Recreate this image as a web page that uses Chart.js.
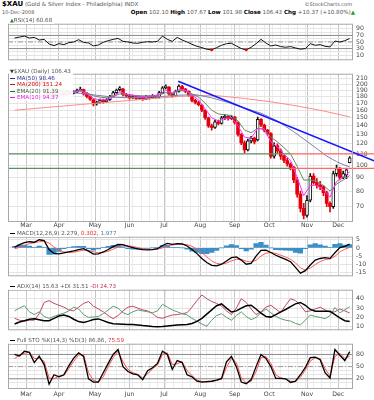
<!DOCTYPE html>
<html>
<head>
<meta charset="utf-8">
<title>$XAU daily</title>
<script src="https://cdn.jsdelivr.net/npm/chart.js@4.4.1/dist/chart.umd.min.js"></script>
<style>
  body { margin: 0; background: #fff; }
  #page { position: relative; width: 374px; height: 400px; overflow: hidden; background: #fff;
          font-family: "DejaVu Sans", Verdana, sans-serif; color: #555; }
  #page canvas { position: absolute; left: 0; }
  .txt { position: absolute; white-space: nowrap; font-size: 5.6px; line-height: 7px; }
  .txt b { color: #000; }
  .key { position: absolute; left: 9px; white-space: nowrap; font-size: 5.6px; line-height: 6.6px;
         background: rgba(255,255,255,0.92); padding: 0 2px 0 1px; color: #555; }
  .dash { display: inline-block; width: 5px; height: 1px; vertical-align: middle; margin-right: 2px; }
</style>
</head>
<body>
<div id="page">
  <div class="txt" style="left:2px;top:1px;"><b style="font-size:7px">$XAU</b> (Gold &amp; Silver Index - Philadelphia) INDX</div>
  <div class="txt" style="right:22px;top:1px;font-size:5px;">©StockCharts.com</div>
  <div class="txt" style="left:2px;top:9px;font-size:5px;">10-Dec-2008</div>
  <div class="txt" style="right:19px;top:9px;"><b>Open</b> 102.10 <b>High</b> 107.67 <b>Low</b> 101.98 <b>Close</b> 106.43 <b>Chg</b> +10.37 (+10.80%)<span style="color:#2a9a2a">▲</span></div>

  <canvas id="rsiChart" width="374" height="50" style="top:17px"></canvas>
  <canvas id="priceChart" width="374" height="163" style="top:67px"></canvas>
  <canvas id="macdChart" width="374" height="53" style="top:230px"></canvas>
  <canvas id="adxChart" width="374" height="54" style="top:283px"></canvas>
  <canvas id="stoChart" width="374" height="63" style="top:337px"></canvas>

  <div class="key" style="top:17px;"><span style="color:#2f7f2f;font-size:5px">▲</span>RSI(14) 60.68</div>
  <div class="key" style="top:68px;">
    <div><span style="font-size:5px;color:#333">▼</span>$XAU (Daily) 106.43</div>
    <div style="color:#2b2b8a"><span class="dash" style="background:#2b2b8a"></span>MA(50) 98.46</div>
    <div style="color:#d01010"><span class="dash" style="background:#d01010"></span>MA(200) 151.24</div>
    <div style="color:#2f6a2f"><span class="dash" style="background:#2f6a2f"></span>EMA(20) 91.39</div>
    <div style="color:#e020e0"><span class="dash" style="background:#e020e0"></span>EMA(10) 94.37</div>
  </div>
  <div class="key" style="top:230px;"><span class="dash" style="background:#000"></span>MACD(12,26,9) 2.279, <span style="color:#e03030">0.302</span>, <span style="color:#4a7a9a">1.977</span></div>
  <div class="key" style="top:283px;"><span class="dash" style="background:#000"></span>ADX(14) 15.63 +DI 31.51 <span style="color:#c03050">-DI 24.73</span></div>
  <div class="key" style="top:337px;"><span class="dash" style="background:#000"></span>Full STO %K(14,3) %D(3) 86.86, <span style="color:#e03030">75.59</span></div>
</div>

<script>
// trading-day index 0 = 21-Feb-2008, 204 = 10-Dec-2008
const monthStarts = [7, 27, 49, 70, 91, 113, 134, 155, 178, 197];
const monthNames = ['Mar', 'Apr', 'May', 'Jun', 'Jul', 'Aug', 'Sep', 'Oct', 'Nov', 'Dec'];

// candles, one per two trading days
const open = [
  186, 188, 191, 195, 197, 201, 204, 199, 205, 206,
  195, 182, 186, 179, 184, 186, 183, 188, 185, 187,
  191, 191, 184, 180, 175, 169, 171, 174, 172, 175,
  180, 186, 191, 192, 183, 181, 178, 180, 177, 179,
  176, 180, 178, 181, 179, 186, 194, 195, 184, 181,
  188, 196, 192, 188, 182, 174, 171, 167, 160, 150,
  140, 138, 145, 143, 150, 152, 149, 151, 144, 130,
  121, 114, 123, 126, 124, 148, 141, 135, 131, 108,
  118, 113, 108, 104, 101, 98, 88, 78, 69, 65,
  74, 91, 86, 84, 83, 79, 72, 70, 93, 97,
  90, 92, 102.10
];
const high = [
  190, 194, 196, 199, 202, 206, 205, 208, 211, 207,
  197, 189, 187, 186, 189, 187, 190, 189, 189, 192,
  195, 192, 186, 181, 177, 173, 176, 176, 177, 182,
  188, 192, 196, 193, 185, 182, 182, 181, 181, 180,
  182, 181, 183, 182, 188, 196, 199, 196, 185, 190,
  199, 198, 193, 189, 183, 176, 173, 168, 161, 151,
  142, 147, 147, 152, 154, 153, 153, 152, 145, 131,
  123, 125, 128, 127, 151, 149, 142, 136, 132, 121,
  120, 115, 109, 106, 102, 99, 90, 80, 72, 77,
  93, 93, 89, 87, 84, 80, 73, 95, 100, 98,
  95, 97, 107.67
];
const low = [
  184, 187, 189, 193, 195, 199, 196, 197, 203, 194,
  181, 180, 178, 177, 182, 180, 182, 183, 184, 186,
  189, 182, 178, 174, 166, 167, 170, 170, 171, 174,
  179, 185, 189, 181, 179, 176, 177, 175, 176, 174,
  175, 176, 177, 177, 178, 185, 192, 182, 179, 180,
  187, 190, 186, 180, 172, 169, 166, 158, 148, 138,
  135, 137, 141, 142, 148, 147, 148, 142, 128, 119,
  111, 113, 121, 120, 123, 139, 133, 129, 106, 106,
  111, 105, 102, 99, 96, 86, 76, 67, 63, 64,
  73, 85, 82, 81, 77, 70, 67, 69, 91, 88,
  89, 89, 101.98
];
const close = [
  188, 192, 194, 197, 200, 203, 198, 205, 207, 196,
  183, 186, 180, 184, 186, 183, 188, 185, 187, 190,
  192, 184, 180, 176, 169, 171, 174, 172, 175, 180,
  186, 190, 194, 183, 181, 178, 180, 177, 179, 176,
  180, 178, 181, 179, 186, 194, 197, 184, 181, 188,
  197, 192, 188, 182, 174, 171, 168, 160, 150, 140,
  138, 145, 143, 150, 152, 149, 151, 144, 130, 121,
  114, 123, 126, 122, 148, 141, 135, 131, 108, 118,
  113, 108, 104, 101, 98, 88, 78, 69, 65, 74,
  91, 86, 84, 83, 79, 72, 70, 93, 97, 90,
  93, 96.06, 106.43
];

// overlays on the price panel
const ma200Day = [0, 20, 40, 60, 80, 100, 112, 124, 140, 156, 172, 188, 204];
const ma200 = [160, 164, 168, 172, 176, 180, 181.5, 181, 177, 172, 166, 159, 151.24];
const ma50Day = [0, 10, 20, 30, 40, 50, 60, 70, 80, 90, 100, 110, 120, 130, 140, 150, 160, 170, 180, 190, 196, 200, 204];
const ma50 = [185, 188, 189, 187, 185, 182, 179, 178, 179, 180, 182, 183, 178, 171, 163, 156, 146, 133, 120, 108, 103, 100.5, 98.46];
// EMAs read every 4 trading days
const ema20 = [
  190, 191, 194, 196, 199, 196, 192, 190, 189, 188,
  189, 186, 181, 179, 178, 180, 184, 183, 182, 181,
  181, 181, 182, 186, 185, 189, 189, 184, 179, 170,
  160, 155, 154, 153, 146, 135, 132, 137, 136, 127,
  122, 116, 110, 99, 88, 88, 87, 84, 80, 85,
  88, 91.39
];
const ema10 = [
  188, 191, 196, 198, 202, 195, 188, 186, 187, 187,
  189, 185, 177, 175, 175, 180, 187, 184, 182, 180,
  180, 181, 183, 190, 186, 191, 190, 182, 175, 162,
  150, 146, 149, 150, 140, 127, 126, 137, 136, 122,
  117, 110, 104, 90, 77, 84, 84, 81, 76, 87,
  90, 94.37
];
// drawn lines: down trend line, support levels
const trendDay = [99.6, 218.8];
const trendVal = [205, 103.7];
const levelVals = [110, 97.2];
const levelSplitDay = 167.8;
const levelEndDay = 218.8;

// indicators read every 3 trading days
const rsi = [
  62, 65, 68, 62, 64, 56, 58, 44, 39, 45,
  42, 48, 50, 57, 49, 47, 38, 41, 49, 54,
  58, 61, 52, 50, 47, 46, 49, 51, 50, 52,
  68, 58, 52, 64, 56, 50, 43, 37, 33, 28,
  26, 33, 40, 45, 46, 38, 30, 26, 34, 45,
  58, 47, 38, 41, 36, 34, 36, 32, 28, 30,
  45, 40, 42, 37, 35, 53, 50, 54, 60.68
];
const macd = [
  0.5, 2.0, 3.2, 3.8, 3.5, 5.0, 4.5, -1.0, -3.4, -3.6,
  -3.0, -2.4, -1.8, -1.0, -0.5, -2.0, -3.8, -3.6, -2.5, -1.0,
  0.8, 2.2, 2.0, 1.0, 0.2, -0.6, -1.1, -1.2, -1.0, -0.5,
  1.5, 2.8, 2.2, 2.6, 2.4, 1.2, -1.0, -3.5, -6.5, -9.0,
  -10.7, -11.0, -10.0, -8.0, -6.0, -5.5, -7.5, -10.0, -9.5, -5.0,
  -1.5, -1.4, -2.8, -4.5, -5.8, -7.0, -8.5, -12.0, -15.5, -14.0,
  -10.5, -7.5, -6.5, -6.0, -6.4, -3.0, 0.2, 1.0, 2.279
];
const signal = [
  -0.5, 0.3, 1.5, 2.6, 3.2, 3.8, 4.2, 3.0, 0.5, -1.5,
  -2.5, -2.8, -2.6, -2.0, -1.4, -1.5, -2.4, -3.0, -2.8, -2.0,
  -0.8, 0.6, 1.4, 1.4, 0.9, 0.2, -0.5, -0.9, -1.0, -0.8,
  0.0, 1.2, 1.8, 2.2, 2.4, 2.0, 1.0, -0.8, -3.0, -5.5,
  -8.0, -9.5, -10.0, -9.3, -8.0, -7.0, -7.0, -8.2, -8.7, -7.6,
  -5.0, -3.2, -2.8, -3.4, -4.5, -5.6, -7.0, -9.2, -12.3, -13.6,
  -12.4, -10.2, -8.4, -7.2, -6.8, -5.2, -2.5, -0.8, 0.302
];
const hist = [
  1.0, 1.7, 1.7, 1.2, 0.3, 1.2, 0.3, -4.0, -3.9, -2.1,
  -0.5, 0.4, 0.8, 1.0, 0.9, -0.5, -1.4, -0.6, 0.3, 1.0,
  1.6, 1.6, 0.6, -0.4, -0.7, -0.8, -0.6, -0.3, 0.0, 0.3,
  1.5, 1.6, 0.4, 0.4, 0.0, -0.8, -2.0, -2.7, -3.5, -3.5,
  -2.7, -1.5, 0.0, 1.3, 2.0, 1.5, -0.5, -1.8, -0.8, 2.6,
  3.5, 1.8, 0.0, -1.1, -1.3, -1.4, -1.5, -2.8, -3.2, -0.4,
  1.9, 2.7, 1.9, 1.2, 0.4, 2.2, 2.7, 1.8, 1.977
];
const adx = [
  13, 15, 16.5, 18, 18.6, 17.5, 16.5, 16.5, 19, 21.5,
  22.5, 21, 18, 15.5, 14.6, 16, 17.8, 18.4, 16.5, 14.5,
  13.2, 13, 12.7, 12.5, 12.4, 11.8, 11.2, 10.8, 10.3, 10,
  10.3, 10.8, 11.3, 11.8, 12.2, 12.4, 13.5, 15.8, 19, 23.5,
  28, 32.5, 34.5, 30, 25.8, 27, 30, 32.5, 33, 29,
  24.5, 21, 20.3, 23, 26, 28.5, 31.5, 34.5, 36, 33,
  28.5, 26.6, 26.6, 26.6, 26.6, 23, 19.5, 16.5, 15.63
];
const plusDI = [
  27, 30, 32.5, 26, 23, 26, 21, 19, 21, 23,
  24.5, 27, 31, 29, 23, 20, 20.5, 21, 24, 28,
  32, 30, 25, 23, 26, 28, 27, 26, 25, 27,
  34, 31, 28, 26, 24, 22.6, 19, 16, 13, 10.5,
  17, 22, 24, 20, 17, 22, 26, 21, 17.5, 20,
  25, 29, 25, 21, 18.6, 17, 16, 13.5, 12, 17,
  22.6, 21, 20, 18.6, 22, 30.6, 25, 28, 31.51
];
const minusDI = [
  19, 17, 16, 17, 17, 24, 36, 38, 35, 33,
  31, 28, 27, 31, 35, 37, 32, 29, 26, 22,
  18.6, 22, 27, 31, 32, 30, 28, 27, 24, 20,
  19, 21, 22.6, 23, 24, 25, 31, 38, 44, 40,
  37, 35, 32, 27, 23, 30, 40, 36, 29, 23,
  26, 31, 33, 29, 25, 33, 40, 38, 33, 26,
  27, 29, 31, 28, 25.5, 26, 29, 27, 24.73
];
const stoK = [
  80, 76, 88, 85, 60, 76, 55, 7, 30, 25,
  30, 52, 71, 84, 75, 20, 12, 12, 35, 58,
  80, 92, 50, 38, 32, 30, 18, 40, 47, 58,
  88, 80, 43, 65, 60, 30, 25, 14, 12, 13,
  14, 17, 21, 62, 75, 50, 12, 8, 18, 50,
  80, 70, 50, 21, 21, 20, 11, 14, 30, 48,
  72, 73, 67, 35, 22, 92, 78, 65, 86.86
];
const stoD = [
  70, 78, 83, 86, 70, 70, 63, 22, 20, 27,
  28, 45, 63, 79, 79, 35, 16, 12, 25, 50,
  72, 88, 62, 43, 35, 31, 22, 32, 45, 54,
  80, 84, 55, 57, 62, 40, 28, 17, 13, 12,
  14, 16, 19, 48, 70, 60, 22, 10, 14, 38,
  72, 75, 58, 30, 22, 20, 14, 13, 24, 42,
  64, 72, 70, 45, 27, 75, 83, 70, 75.59
];

const priceTicks = [70, 80, 90, 100, 110, 120, 130, 140, 150, 160, 170, 180, 190, 200, 210];
const rsiTicks = [10, 20, 30, 40, 50, 60, 70, 80, 90];
const rsiLabels = [10, 30, 50, 70, 90];
const macdTicks = [-15, -10, -5, 0, 5];
const adxTicks = [10, 20, 30, 40];
const stoTicks = [10, 20, 30, 40, 50, 60, 70, 80, 90];
const stoLabels = [20, 50, 80];

const FONT = '"DejaVu Sans", Verdana, sans-serif';
const X_MIN = -4, X_MAX = 206;

const candleDay = close.map((_, k) => k * 2);
const oscDay = rsi.map((_, k) => k * 3);
const emaDay = ema10.map((_, k) => k * 4);

const pts = (days, vals) => vals.map((v, k) => ({ x: days[k], y: v }));
const flat = (v, from = X_MIN, to = X_MAX) => [{ x: from, y: v }, { x: to, y: v }];
const line = (data, color, width, extra) =>
  Object.assign({ type: 'line', data, borderColor: color, borderWidth: width, pointRadius: 0, fill: false }, extra || {});

// weekly vertical grid, darker line at month starts
const weekDays = [];
for (let d = 2; d <= X_MAX; d += 5) if (!monthStarts.includes(d)) weekDays.push(d);
const xTicks = weekDays.concat(monthStarts).sort((a, b) => a - b);

function xAxis(showMonths) {
  return {
    type: 'linear', min: X_MIN, max: X_MAX, offset: false,
    afterBuildTicks: s => { s.ticks = xTicks.map(v => ({ value: v })); },
    afterFit: s => { s.height = showMonths ? (showMonths === 'bottom' ? 11 : 8) : 0; },
    grid: { offset: false, drawTicks: false, lineWidth: 1,
            color: c => (c.tick && monthStarts.includes(c.tick.value)) ? '#c6c6c6' : '#ececec' },
    border: { display: false },
    ticks: {
      display: !!showMonths, autoSkip: false, maxRotation: 0, padding: showMonths === 'bottom' ? 2 : 0,
      color: '#444', font: { family: FONT, size: 6.2 },
      callback: v => { const k = monthStarts.indexOf(v); return k < 0 ? '' : monthNames[k]; }
    }
  };
}

function yAxis(min, max, tickVals, labelVals, type) {
  return {
    type: type || 'linear', position: 'right', min, max,
    afterBuildTicks: s => { s.ticks = tickVals.map(v => ({ value: v })); },
    afterFit: s => { s.width = 21; },
    grid: { color: '#e4e4e4', drawTicks: false },
    border: { display: false },
    ticks: {
      autoSkip: false, padding: 3, color: '#444', font: { family: FONT, size: 6.2 },
      callback: v => labelVals.includes(v) ? String(v) : ''
    }
  };
}

// panel frame
const frame = {
  id: 'frame',
  afterDraw(chart) {
    const a = chart.chartArea, c = chart.ctx;
    c.save();
    c.strokeStyle = '#a8a8a8';
    c.lineWidth = 1;
    c.strokeRect(a.left + 0.5, a.top + 0.5, a.right - a.left - 1, a.bottom - a.top - 1);
    c.restore();
  }
};

function makePanel(id, y, datasets, showMonths) {
  return new Chart(document.getElementById(id), {
    type: 'line',
    data: { datasets },
    options: {
      responsive: false, animation: false, events: [],
      layout: { autoPadding: false, padding: { left: 8, right: 0, top: 0, bottom: 0 } },
      plugins: { legend: { display: false }, tooltip: { enabled: false } },
      elements: { line: { tension: 0 }, point: { radius: 0 } },
      scales: { x: xAxis(showMonths), y }
    },
    plugins: [frame]
  });
}

// RSI
makePanel('rsiChart', yAxis(-5.6, 105.6, rsiTicks, rsiLabels), [
  line(pts(oscDay, rsi), '#111', 1, {
    pointRadius: c => rsi[c.dataIndex] < 27 ? 1.4 : 0,
    pointBackgroundColor: '#e00', pointBorderWidth: 0
  }),
  line(flat(70), '#8c8c8c', 1),
  line(flat(30), '#8c8c8c', 1),
  line(flat(50), '#9a9a9a', 1, { borderDash: [5, 2, 1, 2] })
]);

// price
const candleColor = close.map((c, k) => (k > 0 ? c < close[k - 1] : c < open[k]) ? '#e4000b' : '#111');
const hollow = close.map((c, k) => c > open[k]);
makePanel('priceChart', yAxis(61.4, 218.8, priceTicks, priceTicks, 'logarithmic'), [
  line(pts(trendDay, trendVal), '#1515ff', 1.6, { clip: false }),
  line(flat(levelVals[0], levelSplitDay, levelEndDay), '#ff6a6a', 1.2, { clip: false }),
  line(flat(levelVals[1], levelSplitDay, levelEndDay), '#ff6a6a', 1.2, { clip: false }),
  line(flat(levelVals[0], X_MIN, levelSplitDay), '#5f8f5f', 1.2),
  line(flat(levelVals[1], X_MIN, levelSplitDay), '#5f8f5f', 1.2),
  line(pts(emaDay, ema10), '#ff30ff', 1),
  line(pts(emaDay, ema20), '#5f8f62', 1),
  line(pts(ma50Day, ma50), '#7f7fae', 1),
  line(pts(ma200Day, ma200), '#ff8a8a', 1),
  {
    type: 'bar', grouped: false, barThickness: 3, borderSkipped: false,
    data: candleDay.map((d, k) => ({ x: d, y: [open[k], close[k]] })),
    backgroundColor: candleDay.map((_, k) => hollow[k] ? '#fff' : candleColor[k]),
    borderColor: candleColor,
    borderWidth: candleDay.map((_, k) => hollow[k] ? 1 : 0)
  },
  {
    type: 'bar', grouped: false, barThickness: 1, borderWidth: 0,
    data: candleDay.map((d, k) => ({ x: d, y: [low[k], high[k]] })),
    backgroundColor: candleColor
  }
], 'mid');

// MACD
makePanel('macdChart', yAxis(-17.43, 6.88, macdTicks, macdTicks), [
  line(pts(oscDay, macd), '#000', 1.3),
  line(pts(oscDay, signal), '#ff5a5a', 1),
  {
    type: 'bar', grouped: false, barThickness: 4.6, borderWidth: 0,
    data: pts(oscDay, hist), backgroundColor: '#3a8fc8'
  }
]);

// ADX
makePanel('adxChart', yAxis(6.2, 49.65, adxTicks, adxTicks), [
  line(pts(oscDay, adx), '#000', 1.5),
  line(pts(oscDay, plusDI), '#5f9a70', 1),
  line(pts(oscDay, minusDI), '#c04868', 1)
]);

// Full stochastics
makePanel('stoChart', yAxis(-5.1, 106.4, stoTicks, stoLabels), [
  line(pts(oscDay, stoK), '#000', 1.3),
  line(pts(oscDay, stoD), '#ff5050', 1),
  line(flat(80), '#8c8c8c', 1),
  line(flat(20), '#8c8c8c', 1),
  line(flat(50), '#9a9a9a', 1, { borderDash: [5, 2, 1, 2] })
], 'bottom');
</script>
</body>
</html>
